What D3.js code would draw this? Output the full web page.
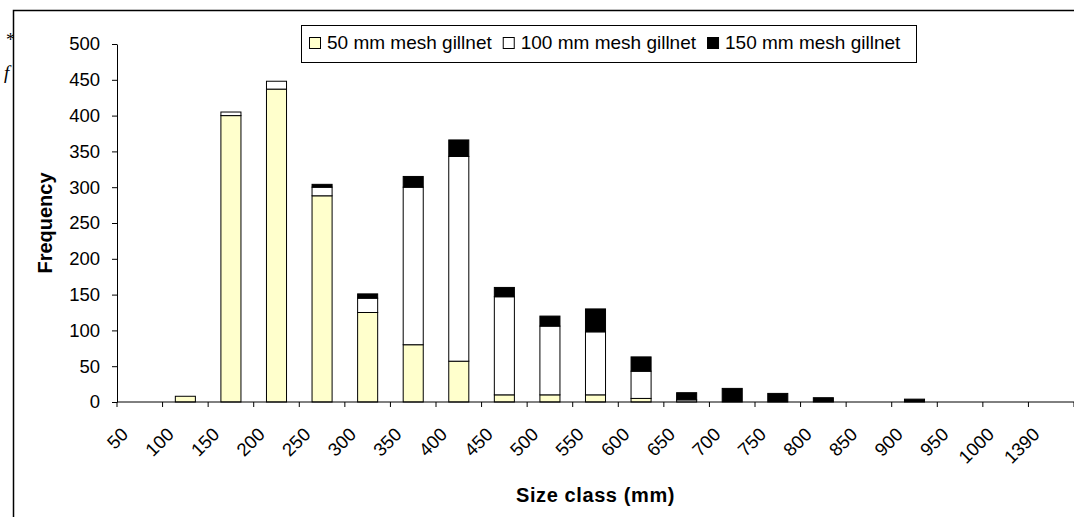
<!DOCTYPE html>
<html>
<head>
<meta charset="utf-8">
<script src="https://cdn.jsdelivr.net/npm/d3@7"></script>
<style>
  body { margin: 0; background: #fff; }
  svg { display: block; font-family: "Liberation Sans", Arial, sans-serif; }
  .tick text { font-size: 18.5px; fill: #000; }
  .axis-title { font-size: 20px; font-weight: bold; }
  .legend text { font-size: 19px; }
</style>
</head>
<body>
<svg width="1074" height="517"></svg>
<script>
// size classes (mm)
const sizeClasses = ['50', '100', '150', '200', '250', '300', '350', '400', '450', '500',
    '550', '600', '650', '700', '750', '800', '850', '900', '950', '1000', '1390'];
// frequencies per gear
const mesh50 = [0, 8, 400, 437, 288, 125, 80, 57, 10, 10, 10, 5, 0, 0, 0, 0, 0, 0, 0, 0, 0];
const mesh100 = [0, 0, 5, 11, 12, 20, 220, 286, 137, 96, 88, 38, 3, 0, 0, 0, 0, 0, 0, 0, 0];
const mesh150 = [0, 0, 0, 0, 4, 6, 15, 23, 13, 14, 32, 20, 10, 19, 12, 6, 0, 4, 0, 0, 0];
const seriesNames = ['50 mm mesh gillnet', '100 mm mesh gillnet', '150 mm mesh gillnet'];
const seriesColors = ['#ffffcc', '#ffffff', '#000000'];
const yTicks = [0, 50, 100, 150, 200, 250, 300, 350, 400, 450, 500];

const svg = d3.select('svg');

// stray text from the page behind the chart
svg.append('text').attr('x', 6).attr('y', 46)
    .style('font-family', '"Liberation Serif", serif').style('font-size', '18px').text('*');
svg.append('text').attr('x', 4).attr('y', 79)
    .style('font-family', '"Liberation Serif", serif').style('font-size', '19px')
    .style('font-style', 'italic').text('f');

// chart frame (runs off the right and bottom edges)
svg.append('rect')
    .attr('x', 13.5).attr('y', 10.5)
    .attr('width', 1200).attr('height', 700)
    .attr('fill', '#fff').attr('stroke', '#000').attr('stroke-width', 1.5);

const plot = { left: 117, right: 1074, top: 44, bottom: 402 };

const x = d3.scaleBand()
    .domain(sizeClasses)
    .range([plot.left, plot.right])
    .padding(0);

const y = d3.scaleLinear()
    .domain([0, 500])
    .range([plot.bottom, plot.top]);

// stacked data
const rows = sizeClasses.map((c, i) => ({ cls: c, s0: mesh50[i], s1: mesh100[i], s2: mesh150[i] }));
const stack = d3.stack().keys(['s0', 's1', 's2'])(rows);

const barW = x.bandwidth() * 0.44;

stack.forEach((layer, k) => {
    svg.append('g')
        .selectAll('rect')
        .data(layer.filter(d => d[1] - d[0] > 0))
        .enter()
        .append('rect')
        .attr('x', d => x(d.data.cls) + (x.bandwidth() - barW) / 2)
        .attr('y', d => y(d[1]))
        .attr('width', barW)
        .attr('height', d => y(d[0]) - y(d[1]))
        .attr('fill', seriesColors[k])
        .attr('stroke', '#000')
        .attr('stroke-width', 1);
});

// y axis
const yAxis = svg.append('g')
    .attr('transform', `translate(${plot.left},0)`)
    .call(d3.axisLeft(y).tickValues(yTicks).tickSize(5).tickSizeOuter(0).tickPadding(12));
yAxis.select('.domain').attr('stroke', '#000');
yAxis.selectAll('.tick line').attr('stroke', '#000');

// x axis: line with ticks between categories
const xAxis = svg.append('g').attr('transform', `translate(0,${plot.bottom})`);
xAxis.append('line')
    .attr('x1', plot.left).attr('x2', plot.right)
    .attr('stroke', '#000');
xAxis.selectAll('.xtick')
    .data(d3.range(sizeClasses.length + 1))
    .enter()
    .append('line')
    .attr('x1', i => plot.left + i * x.step())
    .attr('x2', i => plot.left + i * x.step())
    .attr('y1', 0).attr('y2', 5)
    .attr('stroke', '#000');
xAxis.selectAll('.xlabel')
    .data(sizeClasses)
    .enter()
    .append('text')
    .attr('class', 'tick')
    .attr('transform', d => `translate(${x(d) + x.bandwidth() / 2 - 15},29) rotate(-45)`)
    .attr('text-anchor', 'end')
    .attr('dy', '0.35em')
    .style('font-size', '18.5px')
    .text(d => d);

// axis titles
svg.append('text')
    .attr('class', 'axis-title')
    .attr('transform', `translate(52,${(plot.top + plot.bottom) / 2}) rotate(-90)`)
    .attr('text-anchor', 'middle')
    .text('Frequency');

svg.append('text')
    .attr('class', 'axis-title')
    .attr('x', (plot.left + plot.right) / 2)
    .attr('y', 502)
    .attr('text-anchor', 'middle')
    .style('letter-spacing', '0.6px')
    .text('Size class (mm)');

// legend
const legend = svg.append('g').attr('class', 'legend');
legend.append('rect')
    .attr('x', 301.5).attr('y', 25.5)
    .attr('width', 615).attr('height', 37)
    .attr('fill', '#fff').attr('stroke', '#000').attr('stroke-width', 1);

let lx = 309;
seriesNames.forEach((name, k) => {
    legend.append('rect')
        .attr('x', lx + 0.5).attr('y', 37.5)
        .attr('width', 11).attr('height', 11)
        .attr('fill', seriesColors[k]).attr('stroke', '#000');
    const t = legend.append('text')
        .attr('x', lx + 18).attr('y', 48.5)
        .text(name);
    lx += 18 + t.node().getComputedTextLength() + 11;
});
</script>
</body>
</html>
